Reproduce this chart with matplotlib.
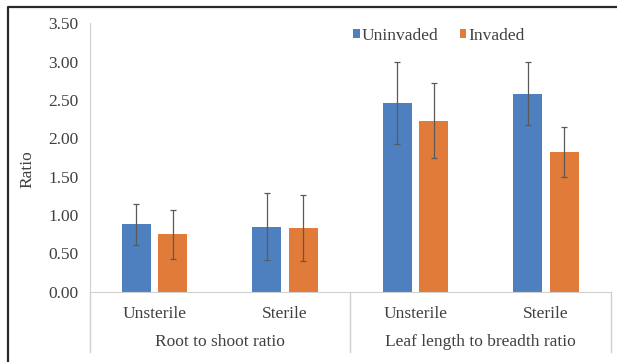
import matplotlib
matplotlib.use('Agg')
import matplotlib.pyplot as plt
import numpy as np

# data
categories = ['Unsterile', 'Sterile', 'Unsterile', 'Sterile']
groups = ['Root to shoot ratio', 'Leaf length to breadth ratio']
uninvaded = [0.88, 0.85, 2.46, 2.58]
invaded = [0.75, 0.83, 2.23, 1.82]
err_uninvaded = [0.27, 0.44, 0.53, 0.41]
err_invaded = [0.32, 0.43, 0.49, 0.33]
yticks = [0.0, 0.5, 1.0, 1.5, 2.0, 2.5, 3.0, 3.5]

plt.rcParams['font.family'] = ['Liberation Serif', 'DejaVu Serif']
txt = '#404040'
grid_c = '#d0d0d0'
fs = 12.5

W, H = 617, 362
fig = plt.figure(figsize=(W / 100, H / 100), dpi=100)
# axes placed in pixel coords of the reference
x0, x1, ytop, ybot = 89.5, 611, 23.3, 291.7
ax = fig.add_axes([x0 / W, (H - ybot) / H, (x1 - x0) / W, (ybot - ytop) / H])

x = np.arange(len(categories))
w = 0.222
off = 0.14
ek = dict(ecolor='#5a5a5a', elinewidth=0.9, capsize=2, capthick=0.9)
ax.bar(x - off, uninvaded, w, yerr=err_uninvaded, color='#4e7fbf', label='Uninvaded', error_kw=ek)
ax.bar(x + off, invaded, w, yerr=err_invaded, color='#e07b39', label='Invaded', error_kw=ek)

ax.set_xlim(-0.5, len(categories) - 0.5)
ax.set_ylim(0, 3.5)
ax.set_yticks(yticks)
ax.set_yticklabels([f'{v:.2f}' for v in yticks], color=txt, fontsize=fs)
ax.set_xticks(x)
ax.set_xticklabels(categories, color=txt, fontsize=fs)
ax.tick_params(length=0)
ax.tick_params(axis='y', pad=8)
ax.tick_params(axis='x', pad=10)

for s in ['top', 'right']:
    ax.spines[s].set_visible(False)
ax.spines['left'].set_color(grid_c)
ax.spines['bottom'].set_color(grid_c)

# group separators and group labels under the axis
for xs in [-0.5, 1.5, 3.5]:
    ax.plot([xs, xs], [0, -0.225], transform=ax.get_xaxis_transform(),
            color=grid_c, lw=1, clip_on=False)
for i, g in enumerate(groups):
    ax.text(2 * i + 0.5, -0.187, g, transform=ax.get_xaxis_transform(),
            ha='center', va='center', fontsize=fs, color=txt)

fig.text(27 / W, (H - 169) / H, 'Ratio', rotation=90, ha='center', va='center',
         fontsize=fs, color=txt)

ax.legend(loc='center', bbox_to_anchor=(0.67, 0.954), ncol=2, frameon=False,
          fontsize=fs, handlelength=0.4, handleheight=0.4, handletextpad=0.1,
          columnspacing=1.2, labelcolor=txt)

# dark frame on top and left of the image
fig.add_artist(plt.Line2D([8 / W, 8 / W, 1], [0, (H - 7) / H, (H - 7) / H],
                          transform=fig.transFigure, color='#2a2a2a', lw=1.6))

fig.savefig('out.png', dpi=100)
